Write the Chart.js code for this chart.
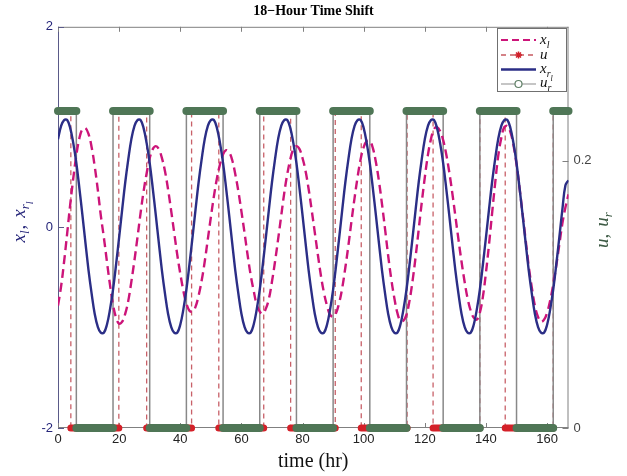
<!DOCTYPE html>
<html><head><meta charset="utf-8">
<script src="https://cdn.jsdelivr.net/npm/chart.js@4.4.1/dist/chart.umd.min.js"></script>
<style>html,body{margin:0;padding:0;background:#fff;}canvas{display:block;}</style>
</head><body>
<canvas id="c" width="627" height="476" style="width:627px;height:476px"></canvas>
<script>
// x_l (hourly, t = 0..167 hr)
const xlValues = [
 -0.78,-0.59,-0.34,-0.06,0.23,0.49,0.72,0.89,0.98,
 0.99,0.93,0.80,0.61,0.38,0.12,-0.10,-0.34,-0.57,-0.77,-0.90,-0.96,
 -0.94,-0.86,-0.73,-0.54,-0.33,-0.10,0.14,0.36,0.54,0.69,0.78,0.81,
 0.78,0.69,0.56,0.38,0.17,-0.05,-0.27,-0.46,-0.63,-0.76,-0.83,
 -0.84,-0.79,-0.68,-0.53,-0.34,-0.12,0.10,0.31,0.49,0.63,0.73,0.77,
 0.75,0.67,0.53,0.36,0.16,-0.05,-0.27,-0.47,-0.63,-0.77,-0.84,
 -0.86,-0.81,-0.71,-0.54,-0.34,-0.12,0.11,0.34,0.53,0.68,0.78,0.81,
 0.78,0.69,0.56,0.38,0.17,-0.05,-0.27,-0.48,-0.65,-0.78,-0.87,
 -0.89,-0.85,-0.75,-0.60,-0.40,-0.18,0.06,0.29,0.50,0.68,0.80,0.86,
 0.86,0.79,0.65,0.46,0.23,-0.02,-0.28,-0.51,-0.70,-0.85,-0.93,
 -0.93,-0.87,-0.73,-0.53,-0.29,-0.02,0.25,0.50,0.72,0.88,0.98,
 1.00,0.96,0.87,0.73,0.55,0.34,0.11,-0.12,-0.34,-0.54,-0.71,-0.83,-0.90,
 -0.92,-0.85,-0.69,-0.45,-0.17,0.14,0.44,0.71,0.89,1.00,
 1.01,0.95,0.82,0.63,0.39,0.13,-0.13,-0.39,-0.60,-0.78,-0.89,-0.94,
 -0.92,-0.85,-0.73,-0.57,-0.38,-0.17,0.04,0.20,0.33
];
// x_rl (hourly, t = 0..167 hr)
const xrlValues = [
 0.88,1.01,1.07,1.07,0.99,0.84,0.64,0.39,0.12,-0.16,-0.43,-0.66,-0.86,-0.99,-1.05,-1.05,-0.97,-0.82,-0.62,-0.37,-0.10,0.18,0.45,0.68,
 0.88,1.01,1.07,1.07,0.99,0.84,0.64,0.39,0.12,-0.16,-0.43,-0.66,-0.86,-0.99,-1.05,-1.05,-0.97,-0.82,-0.62,-0.37,-0.10,0.18,0.45,0.68,
 0.88,1.01,1.07,1.07,0.99,0.84,0.64,0.39,0.12,-0.16,-0.43,-0.66,-0.86,-0.99,-1.05,-1.05,-0.97,-0.82,-0.62,-0.37,-0.10,0.18,0.45,0.68,
 0.88,1.01,1.07,1.07,0.99,0.84,0.64,0.39,0.12,-0.16,-0.43,-0.66,-0.86,-0.99,-1.05,-1.05,-0.97,-0.82,-0.62,-0.37,-0.10,0.18,0.45,0.68,
 0.88,1.01,1.07,1.07,0.99,0.84,0.64,0.39,0.12,-0.16,-0.43,-0.66,-0.86,-0.99,-1.05,-1.05,-0.97,-0.82,-0.62,-0.37,-0.10,0.18,0.45,0.68,
 0.88,1.01,1.07,1.07,0.99,0.84,0.64,0.39,0.12,-0.16,-0.43,-0.66,-0.86,-0.99,-1.05,-1.05,-0.97,-0.82,-0.62,-0.37,-0.10,0.18,0.45,0.68,
 0.88,1.01,1.07,1.07,0.99,0.84,0.64,0.39,0.12,-0.16,-0.43,-0.66,-0.86,-0.99,-1.05,-1.05,-0.97,-0.82,-0.62,-0.37,-0.10,0.18,0.42,0.47
];
// u (step input): switching times and levels
const uTimes  = [0, 4.2, 19.9, 29.0, 43.7, 52.6, 67.3, 76.1, 90.7, 99.2, 114.2, 122.7, 138, 146.3, 162, 167];
const uLevels = [0.237, 0, 0.237, 0, 0.237, 0, 0.237, 0, 0.237, 0, 0.237, 0, 0.237, 0, 0.237, 0.237];
// u_r (reference light): switching times and levels
const urTimes  = [0, 6, 18, 30, 42, 54, 66, 78, 90, 102, 114, 126, 138, 150, 162, 167];
const urLevels = [0.237, 0, 0.237, 0, 0.237, 0, 0.237, 0, 0.237, 0, 0.237, 0, 0.237, 0, 0.237, 0.237];
// tick labels
const xTicks = [0, 20, 40, 60, 80, 100, 120, 140, 160];
const yLeftTicks = [-2, 0, 2];
const yRightTicks = [0, 0.2];

const toPts = arr => arr.map((v, i) => ({x: i, y: v}));
const stepPts = (ts, ls) => ts.map((t, i) => ({x: t, y: ls[i]}));
function segs(ts, ls, pick) {
  const out = [];
  for (let i = 0; i < ts.length - 1; i++) {
    if (pick(ls[i]) && ts[i + 1] > ts[i]) {
      out.push({x: ts[i], y: ls[i]}, {x: ts[i + 1], y: ls[i]}, {x: ts[i + 1], y: null});
    }
  }
  return out;
}

const SERIF = 'Liberation Serif';
const SANS = 'Liberation Sans';

function drawRich(ctx, parts, cx, cy, rot, color, align) {
  ctx.save();
  ctx.translate(cx, cy);
  ctx.rotate(rot);
  ctx.fillStyle = color;
  ctx.textBaseline = 'alphabetic';
  ctx.textAlign = 'left';
  let w = 0;
  parts.forEach(p => { ctx.font = p.f; w += ctx.measureText(p.t).width + (p.gap || 0); });
  let x = align === 'left' ? 0 : -w / 2;
  parts.forEach(p => { ctx.font = p.f; ctx.fillText(p.t, x, p.dy || 0); x += ctx.measureText(p.t).width + (p.gap || 0); });
  ctx.restore();
}

const decor = {
  id: 'decor',
  beforeDatasetsDraw(chart) {
    const {ctx, chartArea: a, scales} = chart;
    ctx.save();
    ctx.lineWidth = 1;
    ctx.strokeStyle = '#808080';
    ctx.beginPath();
    ctx.moveTo(a.left, a.top + 0.5); ctx.lineTo(a.right, a.top + 0.5);
    ctx.moveTo(a.right - 0.5, a.top); ctx.lineTo(a.right - 0.5, a.bottom);
    ctx.moveTo(a.left, a.bottom - 0.5); ctx.lineTo(a.right, a.bottom - 0.5);
    ctx.stroke();
    ctx.strokeStyle = '#5a5a88';
    ctx.beginPath();
    ctx.moveTo(a.left + 0.5, a.top); ctx.lineTo(a.left + 0.5, a.bottom);
    ctx.stroke();
    // inward ticks
    ctx.strokeStyle = '#808080';
    ctx.beginPath();
    xTicks.forEach(v => {
      const px = Math.round(scales.x.getPixelForValue(v)) + 0.5;
      ctx.moveTo(px, a.bottom); ctx.lineTo(px, a.bottom - 5);
      ctx.moveTo(px, a.top); ctx.lineTo(px, a.top + 5);
    });
    yRightTicks.forEach(v => {
      const py = Math.round(scales.y2.getPixelForValue(v)) + 0.5;
      ctx.moveTo(a.right, py); ctx.lineTo(a.right - 6, py);
    });
    ctx.stroke();
    ctx.strokeStyle = '#5a5a88';
    ctx.beginPath();
    yLeftTicks.forEach(v => {
      const py = Math.round(scales.y.getPixelForValue(v)) + 0.5;
      ctx.moveTo(a.left, py); ctx.lineTo(a.left + 6, py);
    });
    ctx.stroke();
    ctx.restore();
  },
  afterDraw(chart) {
    const {ctx} = chart;
    const it = s => 'italic ' + s + 'px ' + SERIF;
    const rm = s => s + 'px ' + SERIF;
    // left y label
    drawRich(ctx, [
      {t: 'x', f: it(19)}, {t: 'l', f: it(13), dy: 4, gap: 1}, {t: ',', f: rm(19), gap: 7},
      {t: 'x', f: it(19)}, {t: 'r', f: it(13), dy: 4}, {t: 'l', f: it(10), dy: 8}
    ], 25, 222, -Math.PI / 2, '#26267a');
    // right y label
    drawRich(ctx, [
      {t: 'u', f: it(19)}, {t: ',', f: rm(19), gap: 7},
      {t: 'u', f: it(19)}, {t: 'r', f: it(13), dy: 4}
    ], 608, 230, -Math.PI / 2, '#3d5a44');
    // legend
    const bx = 497, by = 28.5, bw = 69, bh = 63;
    ctx.save();
    ctx.fillStyle = '#fff';
    ctx.fillRect(bx, by, bw, bh);
    ctx.strokeStyle = '#707070';
    ctx.lineWidth = 1;
    ctx.strokeRect(bx + 0.5, by, bw, bh);
    const x0 = 501, x1 = 536, xm = 518.5, tx = 540;
    ctx.strokeStyle = '#cc1479'; ctx.lineWidth = 2.2; ctx.setLineDash([7, 4]);
    ctx.beginPath(); ctx.moveTo(x0, 40); ctx.lineTo(x1, 40); ctx.stroke();
    ctx.strokeStyle = '#c65a60'; ctx.lineWidth = 1.3; ctx.setLineDash([5, 4]);
    ctx.beginPath(); ctx.moveTo(x0, 55); ctx.lineTo(x1, 55); ctx.stroke();
    ctx.setLineDash([]);
    ctx.strokeStyle = '#d0202a'; ctx.lineWidth = 1.5;
    ctx.beginPath();
    for (let k = 0; k < 4; k++) {
      const ang = k * Math.PI / 4;
      ctx.moveTo(xm - 3.5 * Math.cos(ang), 55 - 3.5 * Math.sin(ang));
      ctx.lineTo(xm + 3.5 * Math.cos(ang), 55 + 3.5 * Math.sin(ang));
    }
    ctx.stroke();
    ctx.strokeStyle = '#2b2e86'; ctx.lineWidth = 2.5;
    ctx.beginPath(); ctx.moveTo(x0, 69.5); ctx.lineTo(x1, 69.5); ctx.stroke();
    ctx.strokeStyle = '#8c8c8c'; ctx.lineWidth = 1.2;
    ctx.beginPath(); ctx.moveTo(x0, 84); ctx.lineTo(x1, 84); ctx.stroke();
    ctx.fillStyle = '#fff'; ctx.strokeStyle = '#5f7f66'; ctx.lineWidth = 1.2;
    ctx.beginPath(); ctx.arc(xm, 84, 3.5, 0, Math.PI * 2); ctx.fill(); ctx.stroke();
    ctx.restore();
    drawRich(ctx, [{t: 'x', f: it(15)}, {t: 'l', f: it(10), dy: 4}], tx, 44, 0, '#111', 'left');
    drawRich(ctx, [{t: 'u', f: it(15)}], tx, 59, 0, '#111', 'left');
    drawRich(ctx, [{t: 'x', f: it(15)}, {t: 'r', f: it(10), dy: 4}, {t: 'l', f: it(8), dy: 8}], tx, 72.5, 0, '#111', 'left');
    drawRich(ctx, [{t: 'u', f: it(15)}, {t: 'r', f: it(10), dy: 4}], tx, 87, 0, '#111', 'left');
  }
};

new Chart(document.getElementById('c'), {
  type: 'line',
  data: {
    datasets: [
      {label: 'u_r markers', data: segs(urTimes, urLevels, () => true), yAxisID: 'y2',
       borderColor: '#4f7656', borderWidth: 8, borderCapStyle: 'round', pointRadius: 0, spanGaps: false, clip: false, order: 0},
      {label: 'u markers', data: segs(uTimes, uLevels, v => v === 0), yAxisID: 'y2',
       borderColor: '#d42028', borderWidth: 7, borderCapStyle: 'round', pointRadius: 0, spanGaps: false, clip: false, order: 1},
      {label: 'x_rl', data: toPts(xrlValues), yAxisID: 'y',
       borderColor: '#2b2e86', borderWidth: 2.4, tension: 0.4, pointRadius: 0, order: 2},
      {label: 'x_l', data: toPts(xlValues), yAxisID: 'y',
       borderColor: '#cc1479', borderWidth: 2.4, borderDash: [9, 5], tension: 0.4, pointRadius: 0, order: 3},
      {label: 'u_r', data: stepPts(urTimes, urLevels), yAxisID: 'y2', stepped: true,
       borderColor: '#888888', borderWidth: 1.5, pointRadius: 0, order: 4},
      {label: 'u', data: stepPts(uTimes, uLevels), yAxisID: 'y2', stepped: true,
       borderColor: '#c86068', borderWidth: 1.3, borderDash: [5, 4], pointRadius: 0, order: 5}
    ]
  },
  options: {
    responsive: false, animation: false, devicePixelRatio: 1,
    layout: {padding: 0},
    plugins: {
      legend: {display: false}, tooltip: {enabled: false},
      title: {display: true, text: '18−Hour Time Shift', color: '#000',
              font: {family: SERIF, size: 14, weight: 'bold'}, padding: {top: 3, bottom: 7}}
    },
    scales: {
      x: {type: 'linear', position: 'bottom', min: 0, max: 167,
          afterBuildTicks: s => { s.ticks = xTicks.map(v => ({value: v})); },
          ticks: {color: '#222', font: {family: SANS, size: 13}, padding: 4, maxRotation: 0, autoSkip: false},
          grid: {display: false, drawTicks: false}, border: {display: false},
          title: {display: true, text: 'time (hr)', color: '#111', font: {family: SERIF, size: 20}, padding: {top: 0, bottom: 2}},
          afterFit: s => { s.height = 48; s.paddingLeft = 0; s.paddingRight = 0; }},
      y: {position: 'left', min: -2, max: 2,
          afterBuildTicks: s => { s.ticks = yLeftTicks.map(v => ({value: v})); },
          ticks: {color: '#26267a', font: {family: SANS, size: 13}, padding: 5},
          grid: {display: false, drawTicks: false}, border: {display: false},
          afterFit: s => { s.width = 58; s.paddingTop = 0; s.paddingBottom = 0; }},
      y2: {position: 'right', min: 0, max: 0.3,
          afterBuildTicks: s => { s.ticks = yRightTicks.map(v => ({value: v})); },
          ticks: {color: '#444', font: {family: SANS, size: 13}, padding: 5},
          grid: {display: false, drawTicks: false}, border: {display: false},
          afterFit: s => { s.width = 58.5; s.paddingTop = 0; s.paddingBottom = 0; }}
    }
  },
  plugins: [decor]
});
</script>
</body></html>
